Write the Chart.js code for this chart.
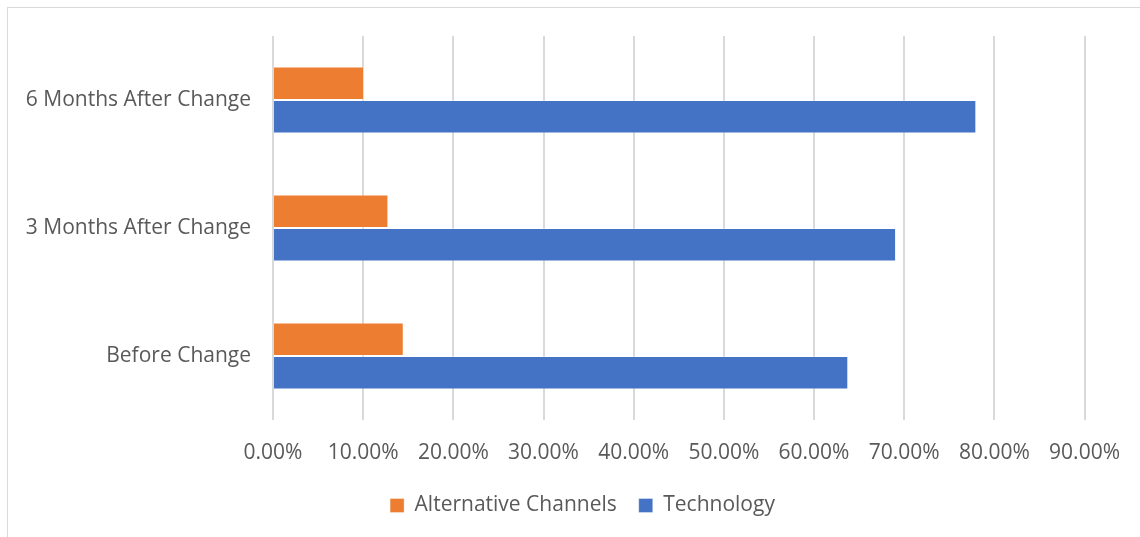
<!DOCTYPE html>
<html lang="en">
<head>
    <meta charset="UTF-8">
    <title>Channel Usage</title>
    <style>
        body {
            margin: 0;
            background: #fff;
            font-family: "Open Sans", sans-serif;
        }
        .frame {
            position: absolute;
            left: 7px;
            top: 7px;
            width: 1200px;
            height: 600px;
            border-left: 1px solid #d9d9d9;
            border-top: 1px solid #d9d9d9;
        }
        .chart-box {
            position: absolute;
            left: 0;
            top: 0;
            width: 1140px;
            height: 537px;
        }
    </style>
    <script src="https://cdn.jsdelivr.net/npm/chart.js"></script>
</head>
<body>
    <div class="frame"></div>
    <div class="chart-box">
        <canvas id="channelChart"></canvas>
    </div>
    <script>
        const periods = ['6 Months After Change', '3 Months After Change', 'Before Change'];
        const alternativeChannels = [0.101, 0.128, 0.145];
        const technology = [0.780, 0.691, 0.638];

        const textColor = '#595959';
        const gridColor = '#d9d9d9';
        const labelFont = { family: 'Open Sans', size: 21 };

        const pct = v => (v * 100).toFixed(2) + '%';

        // the legend sits centred under the whole frame, not just the plot
        const legendShift = {
            id: 'legendShift',
            afterLayout(chart) {
                chart.legend.left += 40;
                chart.legend.right += 40;
            }
        };

        new Chart(document.getElementById('channelChart'), {
            type: 'bar',
            data: {
                labels: periods,
                datasets: [{
                    label: 'Alternative Channels',
                    data: alternativeChannels,
                    backgroundColor: '#ed7d31',
                    borderColor: 'rgba(255,255,255,0.35)',
                    borderWidth: 1
                }, {
                    label: 'Technology',
                    data: technology,
                    backgroundColor: '#4472c4',
                    borderColor: 'rgba(255,255,255,0.35)',
                    borderWidth: 1
                }]
            },
            options: {
                indexAxis: 'y',
                responsive: true,
                maintainAspectRatio: false,
                animation: false,
                categoryPercentage: 0.524,
                barPercentage: 1,
                layout: {
                    padding: { top: 36, right: 55, bottom: 11, left: 0 }
                },
                scales: {
                    x: {
                        min: 0,
                        max: 0.9,
                        ticks: {
                            stepSize: 0.1,
                            color: textColor,
                            font: labelFont,
                            padding: 20,
                            callback: v => pct(v)
                        },
                        grid: { color: gridColor, lineWidth: 2, drawTicks: false },
                        border: { display: false },
                        afterFit: scale => { scale.height = 53; }
                    },
                    y: {
                        ticks: {
                            color: textColor,
                            font: labelFont,
                            padding: 22
                        },
                        grid: { display: false, drawTicks: false },
                        border: { display: false },
                        afterFit: scale => { scale.width = 273; }
                    }
                },
                plugins: {
                    legend: {
                        position: 'bottom',
                        labels: {
                            color: textColor,
                            font: labelFont,
                            boxWidth: 14,
                            boxHeight: 14,
                            padding: 22
                        }
                    },
                    tooltip: { enabled: false }
                }
            },
            plugins: [legendShift]
        });
    </script>
</body>
</html>
